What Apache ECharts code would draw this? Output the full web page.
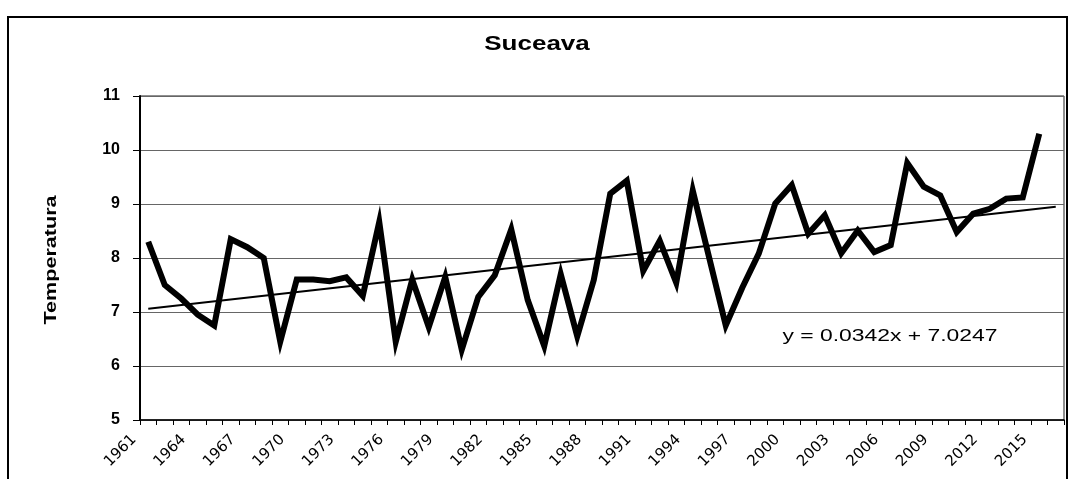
<!DOCTYPE html>
<html>
<head>
<meta charset="utf-8">
<script src="https://cdn.jsdelivr.net/npm/echarts@6/dist/echarts.min.js"></script>
<style>
  html, body { margin: 0; padding: 0; background: #fff; }
  #chart { width: 1070px; height: 479px; }
</style>
</head>
<body>
<div id="chart"></div>
<script>
// ani 1961 - 2016 (ultima categorie fara valoare, doar trendul)
const years = []
for (let y = 1961; y <= 2016; y++) years.push(String(y))

// temperatura medie anuala
const temps = [
  8.30, 7.50, 7.25, 6.95, 6.75, 8.35, 8.20, 8.00, 6.45, 7.60,
  7.60, 7.57, 7.64, 7.30, 8.67, 6.45, 7.60, 6.72, 7.65, 6.30,
  7.28, 7.68, 8.53, 7.22, 6.37, 7.70, 6.55, 7.59, 9.19, 9.43,
  7.76, 8.32, 7.54, 9.25, 8.00, 6.75, 7.45, 8.08, 9.01, 9.35,
  8.45, 8.79, 8.09, 8.51, 8.11, 8.24, 9.76, 9.32, 9.16, 8.48,
  8.82, 8.91, 9.10, 9.12, 10.30
]

// capetele liniei de trend
const trendYears = ['1961', '2016']
const trendVals = [7.06, 8.95]

const yTicks = [5, 6, 7, 8, 9, 10, 11]
const equation = 'y = 0.0342x + 7.0247'

let myChart = echarts.init(document.getElementById('chart'))

let option = {
  animation: false,
  backgroundColor: '#fff',
  grid: {
    left: 140, right: 6, top: 96, bottom: 59,
    show: true, borderColor: '#222', borderWidth: 1,
    outerBoundsMode: 'none'
  },
  graphic: [
    {
      type: 'rect',
      shape: { x: 8, y: 17, width: 1059, height: 480 },
      style: { fill: 'none', stroke: '#000', lineWidth: 2 }
    },
    {
      type: 'text', x: 537, y: 44, scaleX: 1.3,
      style: {
        text: 'Suceava', fill: '#000', textAlign: 'center', textVerticalAlign: 'middle',
        font: 'bold 20px "Liberation Sans", Arial, sans-serif'
      }
    },
    {
      type: 'text', x: 52, y: 260, rotation: Math.PI / 2, scaleX: 1.35,
      style: {
        text: 'Temperatura', fill: '#000', textAlign: 'center', textVerticalAlign: 'middle',
        font: 'bold 16px "Liberation Sans", Arial, sans-serif'
      }
    },
    {
      type: 'text', x: 890, y: 337, scaleX: 1.43,
      style: {
        text: equation, fill: '#000', textAlign: 'center', textVerticalAlign: 'middle',
        font: '16px "Liberation Sans", Arial, sans-serif'
      }
    }
  ],
  xAxis: {
    type: 'category',
    data: years,
    boundaryGap: true,
    axisLine: { lineStyle: { color: '#000', width: 1.5 } },
    axisTick: { show: true, interval: 0, length: 5, lineStyle: { color: '#000' } },
    axisLabel: {
      interval: 2, rotate: 45, margin: 3, padding: [0, 20, 0, 0],
      color: '#000', fontSize: 15, fontFamily: '"DejaVu Sans", sans-serif'
    },
    splitLine: { show: false }
  },
  yAxis: {
    type: 'value',
    min: yTicks[0], max: yTicks[yTicks.length - 1], interval: 1,
    axisLine: { show: true, lineStyle: { color: '#000', width: 2 } },
    axisTick: { show: true, length: 7, lineStyle: { color: '#000' } },
    axisLabel: {
      margin: 20, color: '#000', fontSize: 16, fontWeight: 'bold',
      fontFamily: '"Liberation Sans", Arial, sans-serif'
    },
    splitLine: { show: true, lineStyle: { color: '#666', width: 1.2 } }
  },
  series: [
    {
      name: 'Temperatura',
      type: 'line',
      data: temps,
      showSymbol: false,
      symbol: 'none',
      lineStyle: { color: '#000', width: 6, join: 'miter', miterLimit: 6 }
    },
    {
      name: 'Trend',
      type: 'line',
      data: [[trendYears[0], trendVals[0]], [trendYears[1], trendVals[1]]],
      showSymbol: false,
      symbol: 'none',
      lineStyle: { color: '#000', width: 2 }
    }
  ]
}

myChart.setOption(option)
</script>
</body>
</html>
